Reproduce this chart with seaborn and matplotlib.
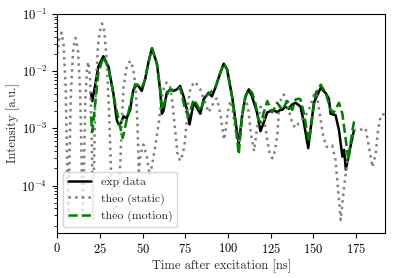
import numpy as np
import pandas as pd
import seaborn as sns
from matplotlib import pyplot as plt

# measured curve
exp_time = [19.8, 20.6, 22.1, 24.1, 27.0, 30.0, 32.9, 34.9, 36.0, 37.5, 38.8, 40.7, 42.7, 44.6,
            46.6, 47.6, 49.5, 51.5, 53.4, 55.5, 58.4, 60.3, 61.3, 62.2, 64.2, 66.2, 68.1, 70.1,
            72.0, 74.0, 76.0, 77.5, 79.9, 81.8, 83.8, 85.7, 88.7, 90.6, 92.6, 95.5, 97.5, 99.5,
            102.4, 104.3, 106.3, 108.3, 110.2, 112.2, 114.1, 117.0, 119.0, 121.0, 123.0, 124.9,
            126.8, 128.8, 130.5, 131.8, 133.5, 135.6, 137.5, 139.6, 142.5, 144.5, 147.0, 150.3,
            154.3, 157.3, 159.1, 160.1, 163.0, 165.0, 167.0, 168.0, 169.0, 171.9, 173.8]
exp_int = [0.0041, 0.0030, 0.0054, 0.0120, 0.0182, 0.0120, 0.0041, 0.0014, 0.00117, 0.00126,
           0.00162, 0.0015, 0.0021, 0.0047, 0.0058, 0.0055, 0.0045, 0.0072, 0.0141, 0.0251,
           0.0135, 0.0047, 0.0018, 0.0020, 0.0042, 0.0048, 0.0045, 0.0048, 0.0055, 0.0036,
           0.0021, 0.00117, 0.0028, 0.0023, 0.0018, 0.0032, 0.0042, 0.0036, 0.0051, 0.0093,
           0.0135, 0.0107, 0.0036, 0.00145, 0.00052, 0.00166, 0.0036, 0.0048, 0.0036, 0.0019,
           0.00089, 0.00126, 0.0019, 0.0020, 0.0021, 0.0019, 0.0021, 0.0021, 0.0024, 0.0022,
           0.0026, 0.0028, 0.0024, 0.00123, 0.00045, 0.0028, 0.0051, 0.0041, 0.0033, 0.0018,
           0.0017, 0.00093, 0.00032, 0.00042, 0.00019, 0.00051, 0.00093]

# theory, static
static_time = [0.0, 1.3, 2.6, 3.8, 5.0, 6.5, 8.0, 9.4, 10.8, 12.2, 13.5, 15.0, 16.5, 17.5, 18.2,
               19.2, 20.2, 21.0, 22.2, 23.8, 25.0, 26.3, 27.6, 29.0, 30.5, 31.8, 33.5, 35.5,
               37.0, 37.8, 38.8, 40.5, 42.7, 44.5, 46.0, 47.0, 47.8, 48.8, 50.5, 52.5, 54.2,
               55.8, 57.5, 59.5, 61.0, 62.5, 64.0, 66.0, 67.5, 69.0, 70.5, 72.0, 73.5, 74.5,
               75.5, 76.5, 78.0, 80.3, 82.0, 83.8, 85.5, 86.7, 88.7, 90.5, 92.5, 93.6, 95.5,
               96.5, 97.7, 98.8, 100.0, 101.4, 102.8, 104.3, 106.0, 107.5, 109.0, 110.5, 112.0,
               113.5, 115.3, 117.0, 119.0, 120.5, 122.5, 124.5, 126.0, 127.5, 128.8, 129.8,
               131.0, 132.7, 134.6, 136.0, 137.5, 139.4, 142.5, 145.0, 147.0, 148.4, 150.3,
               151.5, 152.5, 153.7, 155.6, 157.5, 159.5, 161.0, 163.0, 165.0, 166.0, 168.0,
               170.0, 171.8, 173.8, 176.7, 180.6, 182.5, 184.6, 186.5, 188.0, 189.5, 192.3]
static_int = [0.020, 0.038, 0.047, 0.028, 0.0050, 2.5e-5, 0.0040, 0.025, 0.038, 0.024, 0.0040,
              2.5e-5, 0.0032, 0.0112, 0.0145, 0.0079, 0.001, 2.5e-5, 0.0025, 0.025, 0.050,
              0.068, 0.050, 0.0158, 0.00158, 1.0e-4, 3.2e-5, 5.0e-5, 2.5e-4, 0.00126, 0.0050,
              0.0112, 0.0151, 0.0112, 0.0050, 0.00126, 1.8e-4, 3.5e-4, 5.2e-4, 3.2e-4, 1.5e-4,
              2.5e-4, 5.0e-4, 0.00126, 0.0032, 0.0050, 0.0063, 0.0056, 0.0028, 0.001, 3.5e-4,
              2.7e-4, 3.5e-4, 5.0e-4, 0.001, 0.0025, 0.0050, 0.0065, 0.0058, 0.0048, 0.0035,
              0.0028, 0.0019, 0.0024, 0.0032, 0.0033, 0.0018, 0.00112, 6.3e-4, 0.001, 0.0020,
              0.0030, 0.0020, 0.001, 5.0e-4, 0.001, 0.0025, 0.0032, 0.0020, 7.9e-4, 4.0e-4,
              0.001, 0.0024, 0.0020, 7.9e-4, 3.5e-4, 3.0e-4, 4.0e-4, 7.2e-4, 0.00186, 0.0032,
              0.0039, 0.0026, 0.0019, 0.00126, 0.00102, 0.00135, 0.00158, 0.0020, 0.0025,
              0.0039, 0.0042, 0.0032, 0.0018, 7.9e-4, 4.8e-4, 4.7e-4, 5.0e-4, 2.8e-4, 5.6e-5,
              2.5e-5, 9.5e-5, 2.8e-4, 5.5e-4, 9.3e-4, 9.3e-4, 0.001, 4.8e-4, 2.1e-4, 3.6e-4,
              0.001, 0.0017, 0.0018]

# theory, with motion
motion_time = [19.8, 20.6, 22.1, 24.1, 27.0, 30.0, 33.9, 36.8, 38.4, 40.7, 43.7, 45.6, 48.6,
               49.5, 51.5, 53.4, 55.5, 58.4, 60.3, 61.5, 62.2, 65.2, 68.1, 72.0, 75.0, 77.0,
               79.9, 81.8, 83.8, 86.7, 89.7, 92.6, 95.5, 97.5, 99.5, 102.4, 104.3, 106.3, 108.3,
               110.2, 112.2, 114.1, 116.0, 118.0, 119.5, 121.0, 123.0, 125.9, 128.8, 131.8,
               134.7, 137.6, 139.6, 141.5, 142.5, 144.5, 147.4, 151.3, 154.3, 157.3, 160.1,
               162.0, 165.0, 167.0, 169.0, 170.5, 172.9, 174.0]
motion_int = [0.00162, 0.00087, 0.0024, 0.0091, 0.0178, 0.0112, 0.0028, 0.00107, 0.00068,
              0.0014, 0.0035, 0.0059, 0.0055, 0.0051, 0.0072, 0.0141, 0.0251, 0.0135, 0.0047,
              0.0021, 0.0025, 0.0045, 0.0048, 0.0051, 0.0021, 0.00162, 0.0032, 0.0026, 0.0020,
              0.0036, 0.0042, 0.0051, 0.0093, 0.0135, 0.0107, 0.0036, 0.0013, 0.00035, 0.00166,
              0.0036, 0.0048, 0.0042, 0.0028, 0.00141, 0.00126, 0.0019, 0.0030, 0.0019, 0.0028,
              0.0021, 0.0030, 0.0021, 0.0032, 0.0033, 0.0032, 0.0018, 0.00059, 0.0041, 0.0058,
              0.0041, 0.0021, 0.0019, 0.0028, 0.0018, 0.00062, 0.00028, 0.00093, 0.0014]

sns.set_theme(style='ticks', rc={
    'axes.edgecolor': 'black',
    'xtick.color': 'black',
    'ytick.color': 'black',
    'axes.linewidth': 0.8,
})
plt.rcParams['font.family'] = ['cmr10', 'DejaVu Serif']
plt.rcParams['mathtext.fontset'] = 'cm'
plt.rcParams['axes.formatter.use_mathtext'] = True
plt.rcParams['font.size'] = 9

fig = plt.figure(figsize=(3.97, 2.78), dpi=100)
ax = fig.add_axes([0.144, 0.163, 0.826, 0.787])

sns.lineplot(x=exp_time, y=exp_int, color='black', lw=1.8, label='exp data', ax=ax, sort=False)
sns.lineplot(x=static_time, y=static_int, color='gray', lw=1.8, linestyle=':',
             label='theo (static)', ax=ax, sort=False)
sns.lineplot(x=motion_time, y=motion_int, color='green', lw=1.8, linestyle='--',
             label='theo (motion)', ax=ax, sort=False)

ax.set_yscale('log')
ax.set_xlim(0, 192)
ax.set_ylim(1.5e-5, 1e-1)
ax.set_xticks([0, 25, 50, 75, 100, 125, 150, 175])
ax.tick_params(labelsize=9, length=3.5, width=0.8)
ax.tick_params(which='minor', length=2, width=0.6)
ax.set_xlabel('Time after excitation [ns]', fontsize=9, labelpad=2)
ax.set_ylabel('Intensity [a.u.]', fontsize=9, labelpad=1)
ax.legend(loc='lower left', fontsize=8.5, handlelength=2)

plt.savefig('out.png', dpi=100)
